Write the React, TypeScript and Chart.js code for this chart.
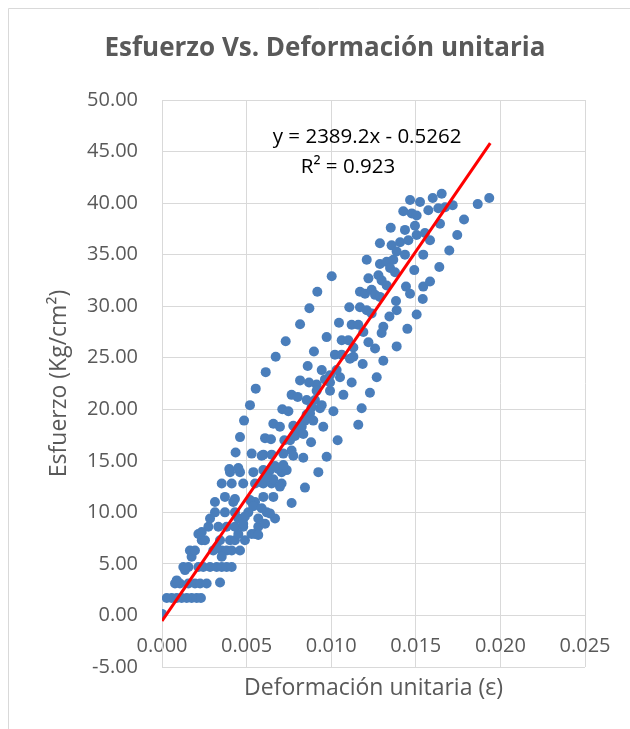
import { useEffect, useRef } from "react";
import { Chart, registerables } from "chart.js";

Chart.register(...registerables);

const chartTitle = "Esfuerzo Vs. Deformación unitaria";
const xTitle = "Deformación unitaria (ε)";
const yTitle = "Esfuerzo (Kg/cm²)";

// axis ticks
const xTicks = { min: 0, max: 0.025, step: 0.005 };
const yTicks = { min: -5, max: 50, step: 5 };

// measured points: strain (x) and stress in Kg/cm2 (y), same order
const strain = [
  0,
  0.00028, 0.00057, 0.00087, 0.00116, 0.00146, 0.00175, 0.00205, 0.0023,
  0.00077, 0.00106, 0.00156, 0.00195, 0.00225, 0.00264, 0.00343,
  0.00126, 0.00156, 0.00215, 0.00244, 0.00284, 0.00323, 0.00353, 0.00382, 0.00412,
  0.00175,
  0.00165, 0.00195, 0.00303, 0.00353, 0.00382, 0.00412, 0.00461,
  0.00235, 0.00254, 0.00343, 0.00402, 0.00431, 0.0049,
  0.00215, 0.00451, 0.0053, 0.0055,
  0.00274, 0.00333, 0.00382, 0.00431, 0.0048, 0.00569,
  0.00284, 0.00451, 0.0048, 0.00569, 0.00668,
  0.00313, 0.00372, 0.00431, 0.0051, 0.00619,
  0.00313, 0.00421, 0.0053, 0.0055, 0.00766,
  0.00372, 0.00599, 0.00658,
  0.00353, 0.00412, 0.0048, 0.0055, 0.00599, 0.00648, 0.00707, 0.00845,
  0.00402, 0.00461, 0.0054, 0.00628, 0.00707, 0.00924,
  0.00589, 0.00431, 0.0052, 0.0054, 0.00589, 0.0049, 0.0048, 0.00638, 0.00687, 0.00737,
  0.00599, 0.00766, 0.00855, 0.00904, 0.00776,
  0.00087, 0.00136, 0.00235, 0.00323, 0.00353, 0.00569, 0.00609, 0.00638,
  0.00658, 0.00697, 0.00618,
  0.00855, 0.00884, 0.00914, 0.00963, 0.00806, 0.00757,
  0.00816, 0.00731, 0.00672, 0.00613, 0.00554, 0.0052, 0.00485, 0.00461, 0.00435, 0.00398,
  0.00451, 0.0053, 0.00589, 0.00609, 0.00644, 0.00658, 0.00697, 0.00711, 0.00747, 0.00766,
  0.00802, 0.00816, 0.00869, 0.00861, 0.00898, 0.00973, 0.01046, 0.01121, 0.0116, 0.01062,
  0.01101, 0.01022, 0.01062, 0.00944, 0.00993, 0.01052, 0.01121, 0.00914, 0.00993, 0.01072,
  0.00934, 0.00875, 0.01013, 0.0118, 0.00845, 0.00894, 0.00826, 0.00953, 0.0116, 0.00786,
  0.00835, 0.00723, 0.00881, 0.01038, 0.00648, 0.00717, 0.00776, 0.00835, 0.00973, 0.00668,
  0.00717, 0.00599,
  0.01466, 0.01525, 0.016, 0.01653, 0.01574, 0.01633, 0.01673, 0.01718, 0.01866, 0.01934,
  0.01426, 0.01476, 0.01505, 0.01785, 0.01643, 0.01352, 0.01436, 0.01495, 0.01554, 0.01584,
  0.01745, 0.01288, 0.01357, 0.01407, 0.01456, 0.01505, 0.01387, 0.01436, 0.01698, 0.01544,
  0.0121, 0.01288, 0.01328, 0.01367, 0.01348, 0.01377, 0.01639, 0.01491, 0.01003, 0.0122,
  0.01279, 0.01298, 0.01328, 0.01442, 0.01466, 0.01544, 0.01584, 0.01541, 0.00918, 0.0117,
  0.012, 0.01239, 0.01259, 0.01288, 0.01383, 0.01387, 0.00871, 0.01107, 0.0117, 0.0121,
  0.01239, 0.01344, 0.01505, 0.01308, 0.0145,
  0.01387, 0.01298, 0.01259, 0.0122, 0.01308, 0.01186, 0.01269, 0.01229, 0.0119, 0.01131,
  0.01111, 0.01131, 0.01032, 0.00993, 0.00944,
];

const stress = [
  0.15,
  1.7, 1.7, 1.7, 1.7, 1.7, 1.7, 1.7, 1.7,
  3.1, 3.1, 3.1, 3.1, 3.1, 3.1, 3.2,
  4.7, 4.7, 4.7, 4.7, 4.7, 4.7, 4.7, 4.7, 4.7,
  5.7,
  6.3, 6.3, 6.3, 6.3, 6.3, 6.3, 6.3,
  7.3, 7.3, 7.3, 7.3, 7.3, 7.3,
  7.9, 7.9, 7.9, 7.9,
  8.6, 8.6, 8.6, 8.6, 8.6, 8.6,
  9.4, 9.4, 9.4, 9.4, 9.4,
  10.0, 10.0, 10.0, 10.0, 10.0,
  11.0, 11.0, 11.0, 11.0, 10.9,
  11.5, 11.5, 11.5,
  12.8, 12.8, 12.8, 12.8, 12.8, 12.8, 12.8, 12.4,
  13.9, 13.9, 13.9, 13.9, 13.9, 13.9,
  12.9, 11.3, 11.2, 10.6, 10.4, 9.6, 8.9, 14.1, 14.2, 14.1,
  15.6, 16.0, 20.9, 20.9, 18.4,
  3.4, 4.4, 8.1, 6.6, 5.7, 7.8, 8.9, 9.9,
  13.2, 12.5, 13.4,
  19.5, 20.2, 22.4, 22.9, 17.8, 17.0,
  28.25, 26.6, 25.1, 23.6, 22.0, 20.4, 18.9, 17.3, 15.8, 14.2,
  14.3, 15.7, 15.5, 17.2, 17.1, 18.6, 18.3, 20.0, 19.8, 21.4,
  21.2, 22.8, 22.6, 24.2, 25.6, 27.0, 28.4, 28.2, 28.2, 26.7,
  26.7, 25.3, 25.3, 23.8, 23.3, 23.1, 22.6, 21.8, 21.8, 21.4,
  20.1, 19.6, 19.8, 20.1, 18.9, 18.9, 18.3, 18.3, 18.5, 17.4,
  17.6, 17.0, 16.8, 17.0, 15.6, 15.7, 15.5, 15.3, 15.4, 14.5,
  14.6, 14.1,
  40.3, 40.1, 40.5, 40.9, 39.3, 39.5, 39.6, 39.8, 39.9, 40.5,
  39.2, 39.0, 38.8, 38.4, 38.0, 37.6, 37.4, 37.8, 37.1, 36.4,
  36.9, 36.1, 35.9, 36.2, 36.4, 36.9, 35.3, 35.0, 35.4, 35.0,
  34.5, 34.1, 34.3, 34.5, 33.7, 33.3, 33.8, 33.5, 32.9, 32.7,
  33.0, 32.5, 32.0, 31.9, 31.2, 31.9, 32.4, 30.7, 31.4, 31.4,
  31.2, 31.6, 31.1, 30.9, 30.5, 29.6, 29.8, 29.9, 29.9, 29.6,
  29.3, 29.0, 29.2, 28.0, 27.8,
  26.1, 27.4, 25.9, 26.5, 24.7, 24.4, 23.1, 21.6, 27.5, 26.0,
  24.9, 25.1, 23.8, 22.6, 20.4,
];

// linear trendline shown in the chart
const slope = 2389.2;
const intercept = -0.5262;
const trendRange = [0, 0.0194];
const equationLabel = "y = 2389.2x - 0.5262";
const r2Label = "R² = 0.923";
const equationAt = { x: 0.01212, y: 46.4 };
const r2At = { x: 0.01099, y: 43.5 };

const textColor = "#595959";
const gridColor = "#d9d9d9";
const fontFamily = '"Open Sans", sans-serif';

const textPlugin = {
  id: "excelText",
  beforeDraw(chart: Chart) {
    const { ctx, width, height } = chart;
    ctx.save();
    ctx.fillStyle = "#ffffff";
    ctx.fillRect(0, 0, width, height);
    ctx.strokeStyle = gridColor;
    ctx.lineWidth = 1;
    ctx.beginPath();
    ctx.moveTo(8.5, height);
    ctx.lineTo(8.5, 8.5);
    ctx.lineTo(width, 8.5);
    ctx.stroke();
    ctx.restore();
  },
  afterDraw(chart: Chart) {
    const { ctx, chartArea, scales } = chart;
    ctx.save();
    ctx.textAlign = "center";
    ctx.textBaseline = "middle";
    ctx.fillStyle = textColor;
    ctx.font = `bold 26px ${fontFamily}`;
    ctx.fillText(chartTitle, 325, 49);

    ctx.font = `23px ${fontFamily}`;
    ctx.fillText(xTitle, (chartArea.left + chartArea.right) / 2, 688);

    ctx.save();
    ctx.translate(59, (chartArea.top + chartArea.bottom) / 2);
    ctx.rotate(-Math.PI / 2);
    ctx.fillText(yTitle, 0, 0);
    ctx.restore();

    ctx.fillStyle = "#000000";
    ctx.font = `20.5px ${fontFamily}`;
    ctx.fillText(equationLabel, scales.x.getPixelForValue(equationAt.x), scales.y.getPixelForValue(equationAt.y));
    ctx.fillText(r2Label, scales.x.getPixelForValue(r2At.x), scales.y.getPixelForValue(r2At.y));
    ctx.restore();
  },
};

export default function App() {
  const canvasRef = useRef<HTMLCanvasElement>(null);
  const chartRef = useRef<Chart | null>(null);

  useEffect(() => {
    if (!canvasRef.current) return;
    if (chartRef.current) chartRef.current.destroy();

    const points = strain.map((x, i) => ({ x, y: stress[i] }));
    const trend = trendRange.map(x => ({ x, y: slope * x + intercept }));

    chartRef.current = new Chart(canvasRef.current, {
      type: "scatter",
      data: {
        datasets: [
          {
            type: "line",
            data: trend,
            borderColor: "#ff0000",
            borderWidth: 3,
            pointRadius: 0,
            fill: false,
            order: 0,
          },
          {
            data: points,
            backgroundColor: "#4a7ebb",
            borderColor: "#4a7ebb",
            borderWidth: 0,
            pointRadius: 5,
            order: 1,
          },
        ],
      },
      options: {
        animation: false,
        responsive: true,
        maintainAspectRatio: false,
        events: [],
        layout: { padding: { top: 100, right: 45, bottom: 62, left: 0 } },
        plugins: {
          legend: { display: false },
          tooltip: { enabled: false },
          title: { display: false },
        },
        scales: {
          x: {
            type: "linear",
            position: { y: 0 },
            min: xTicks.min,
            max: xTicks.max,
            grid: { color: gridColor, drawTicks: false },
            border: { color: gridColor },
            ticks: {
              stepSize: xTicks.step,
              autoSkip: false,
              maxRotation: 0,
              padding: 19,
              color: textColor,
              font: { family: fontFamily, size: 20 },
              callback: v => Number(v).toFixed(3),
            },
          },
          y: {
            type: "linear",
            min: yTicks.min,
            max: yTicks.max,
            afterFit: scale => { scale.width = 162; },
            grid: { color: gridColor, drawTicks: false },
            border: { color: gridColor },
            ticks: {
              stepSize: yTicks.step,
              padding: 24,
              color: textColor,
              font: { family: fontFamily, size: 20 },
              callback: v => Number(v).toFixed(2),
            },
          },
        },
      },
      plugins: [textPlugin],
    });

    return () => {
      if (chartRef.current) {
        chartRef.current.destroy();
        chartRef.current = null;
      }
    };
  }, []);

  return (
    <div style={{ position: "fixed", left: 0, top: 0, width: 630, height: 729, background: "#fff" }}>
      <canvas ref={canvasRef}></canvas>
    </div>
  );
}
